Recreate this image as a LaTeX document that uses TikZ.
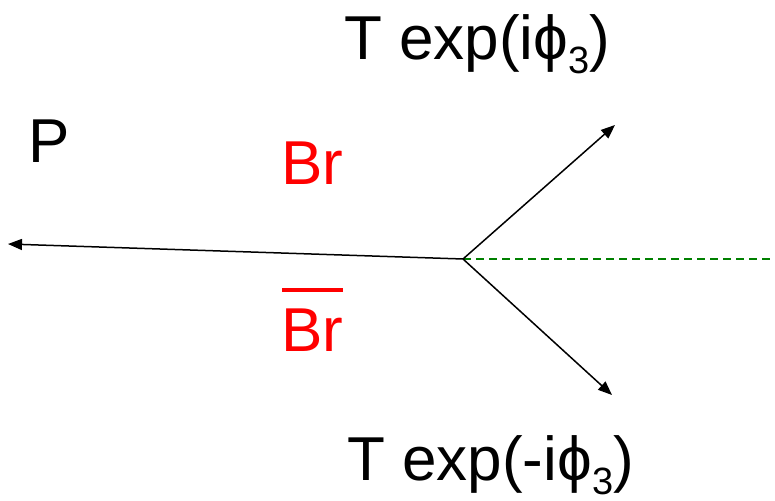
\documentclass[tikz,border=0pt]{standalone}
\usepackage{fontspec}
\setmainfont{Liberation Sans}
\usetikzlibrary{arrows.meta}
\newcommand{\subthree}{\raisebox{-14pt}{\fontsize{38}{40}\selectfont 3}}
\tikzset{
  lbl/.style={anchor=base west, inner sep=0pt, font=\fontsize{62}{70}\selectfont},
  redlbl/.style={lbl, text=red},
  ray/.style={line width=1.5pt, -{Triangle[length=14pt,width=11pt]}},
  axis/.style={draw=green!50!black, line width=1.5pt, dash pattern=on 8pt off 5pt}
}
\begin{document}
\begin{tikzpicture}[x=1pt,y=1pt]
\useasboundingbox (0,0) rectangle (775,500);
\coordinate (o) at (463,241);
\coordinate (left) at (8,256);
\coordinate (up) at (615,375);
\coordinate (down) at (612,105);
\coordinate (right) at (775,241);
\node[lbl] (tup) at (344,440) {T exp(iϕ\subthree)};
\node[lbl] (tdown) at (347,20) {T exp(-iϕ\subthree)};
\node[lbl] (p) at (28,337) {P};
\node[redlbl] (br) at (281,315) {Br};
\node[redlbl] (brbar) at (281,148) {\rlap{\hspace{1pt}\raisebox{60pt}{\rule{61pt}{4pt}}}Br};
\draw[axis] (o) -- (right);
\draw[ray] (o) -- (left);
\draw[ray] (o) -- (up);
\draw[ray] (o) -- (down);
\end{tikzpicture}
\end{document}
